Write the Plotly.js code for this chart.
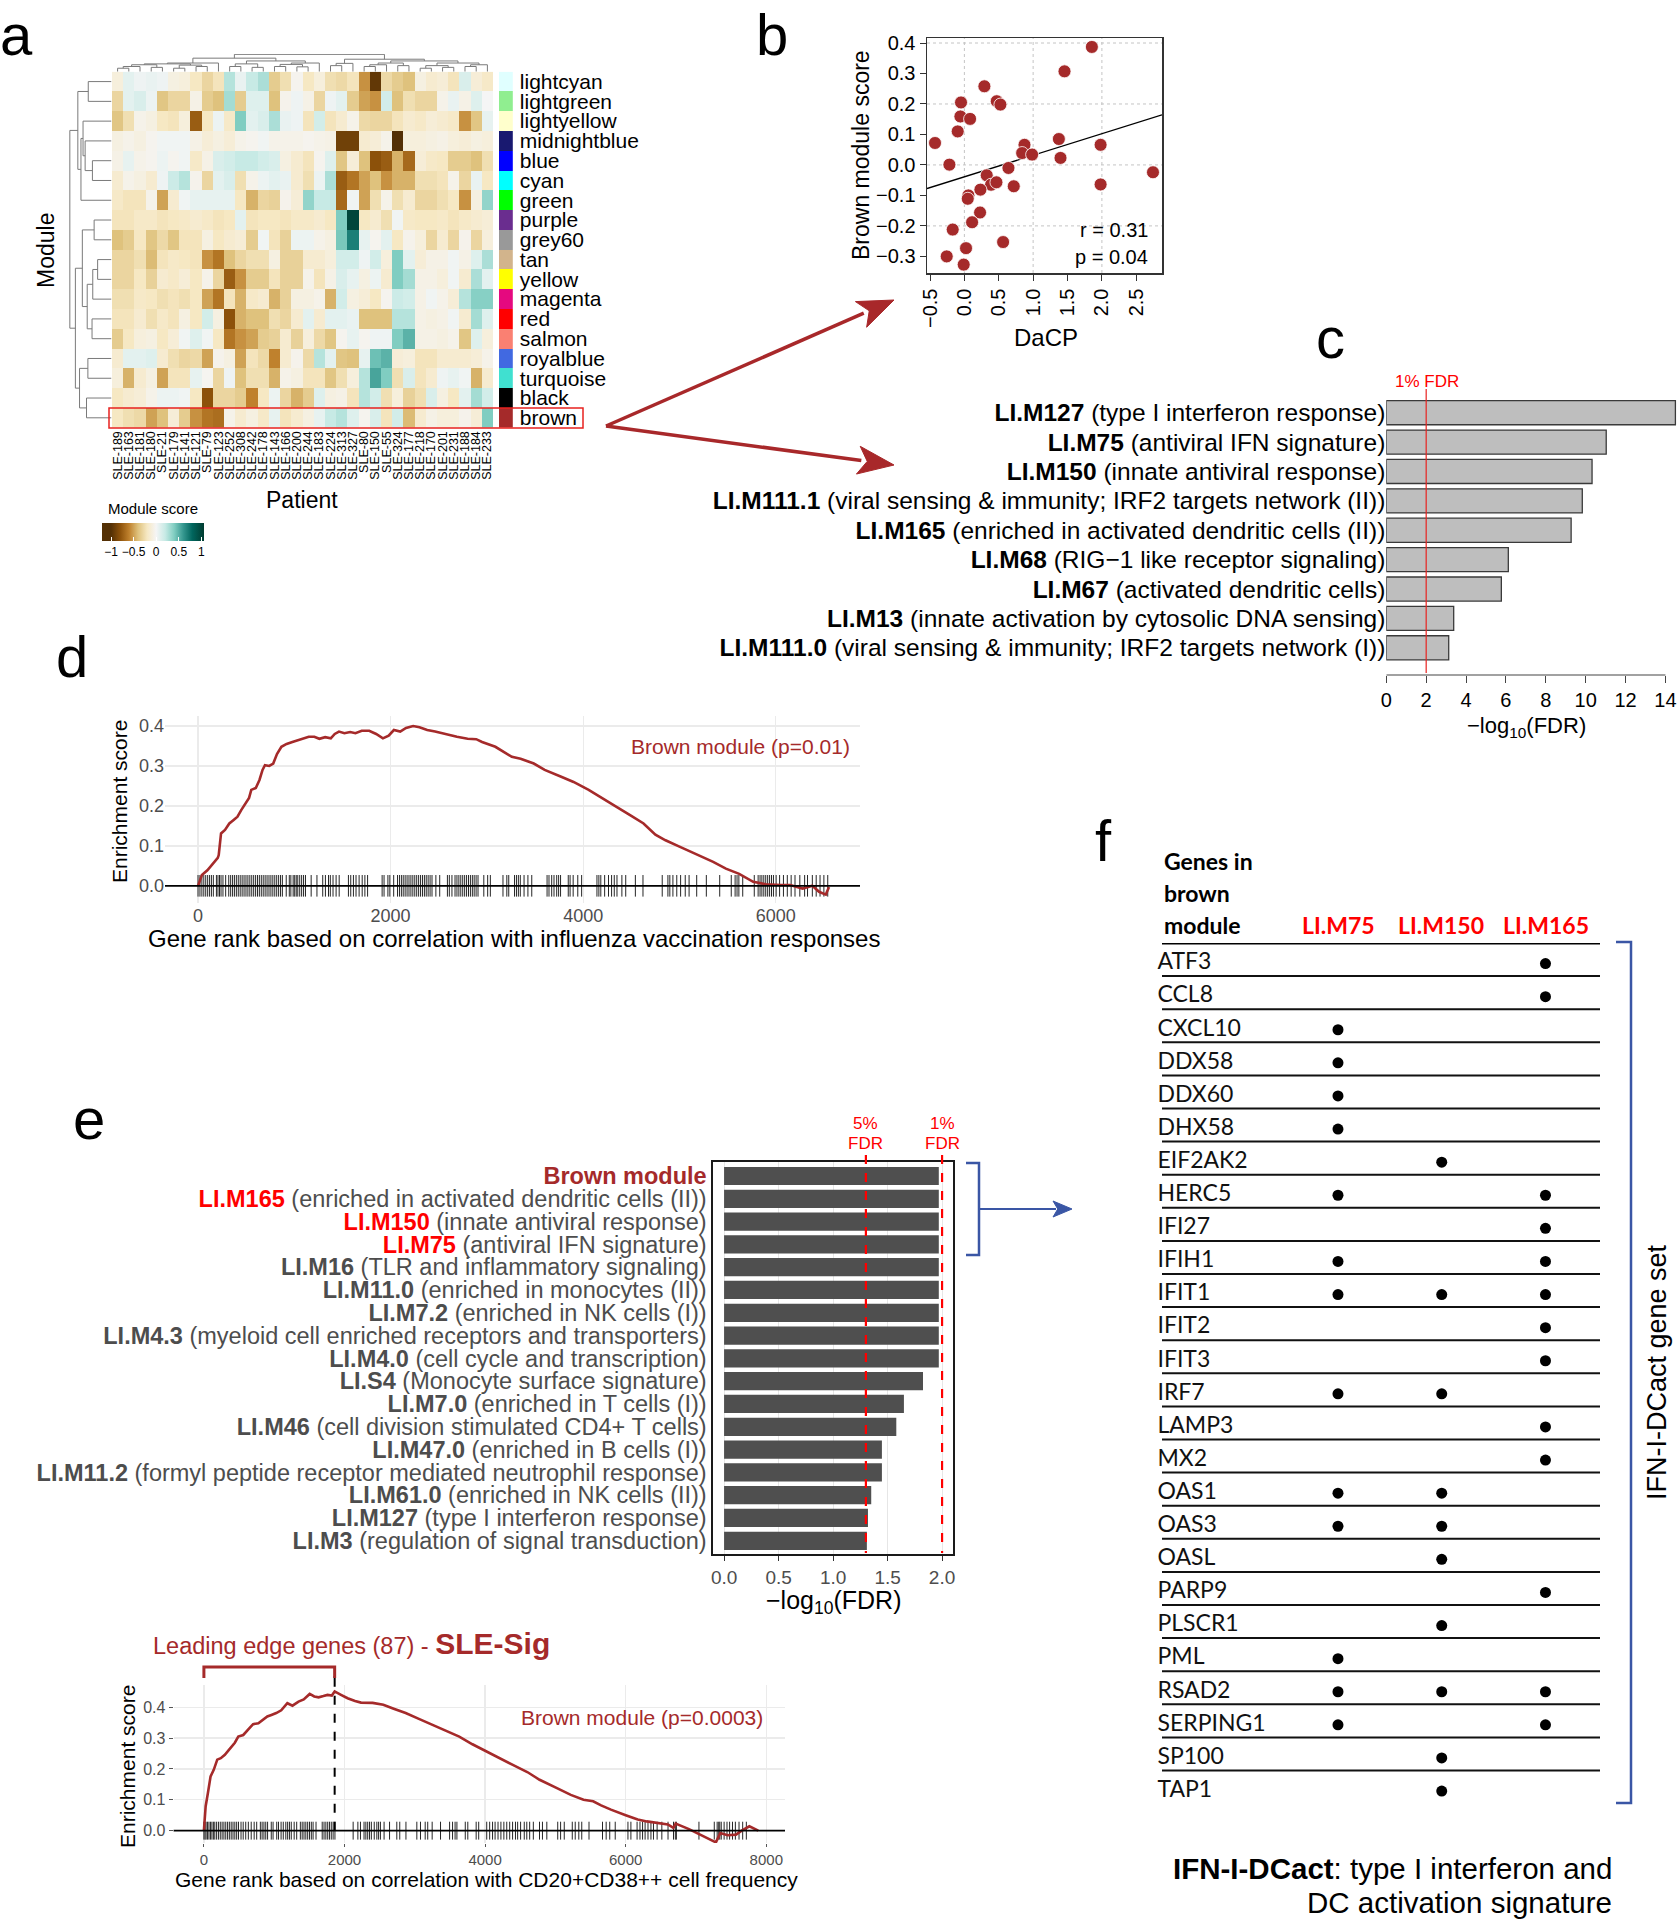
<!DOCTYPE html>
<html><head><meta charset="utf-8">
<script src="https://cdn.plot.ly/plotly-3.0.1.min.js"></script>
<style>html,body{margin:0;padding:0;background:#fff}</style>
</head><body><div id="chart" style="width:1679px;height:1920px"></div>
<script>
// ================= DATA =================
// Panel a
const patients=['SLE-189','SLE-163','SLE-181','SLE-180','SLE-21','SLE-179','SLE-141','SLE-121','SLE-79','SLE-123','SLE-252','SLE-308','SLE-242','SLE-178','SLE-143','SLE-166','SLE-200','SLE-244','SLE-183','SLE-224','SLE-313','SLE-327','SLE-80','SLE-150','SLE-55','SLE-324','SLE-177','SLE-218','SLE-170','SLE-201','SLE-231','SLE-188','SLE-184','SLE-233'];
const modules=['lightcyan','lightgreen','lightyellow','midnightblue','blue','cyan','green','purple','grey60','tan','yellow','magenta','red','salmon','royalblue','turquoise','black','brown'];
const moduleColors=['#e0ffff','#90ee90','#ffffcc','#191970','#0000ff','#00ffff','#00ff00','#6a2d8f','#999999','#d2b48c','#ffff00','#e5097f','#ff0000','#fa8072','#4169e1','#40e0d0','#000000','#a52a2a'];
const moduleScores=[
[-0.1,0.08,0.03,0.05,0.03,-0.08,-0.1,-0.2,-0.3,-0.22,0.25,0.05,0.2,0.28,-0.35,-0.25,-0.03,-0.2,-0.1,-0.25,-0.28,-0.22,-0.55,-0.95,-0.28,-0.35,-0.4,-0.08,-0.15,-0.12,-0.22,0.12,-0.12,-0.18],
[-0.3,0.08,0.12,0.04,-0.38,-0.3,-0.3,-0.06,-0.35,-0.4,0.3,-0.35,0.1,0.1,-0.4,-0.04,0.03,-0.06,-0.3,0.03,0.08,-0.35,-0.5,-0.55,0.15,-0.4,-0.25,-0.3,-0.3,-0.05,0.05,-0.06,0.1,0.0],
[-0.38,-0.25,-0.05,-0.08,-0.2,-0.22,-0.1,-0.75,-0.2,0.04,-0.18,0.4,0.08,0.12,0.28,0.05,0.03,-0.22,0.15,-0.22,-0.15,-0.05,-0.28,-0.3,-0.3,-0.22,-0.15,-0.18,-0.12,-0.15,-0.18,-0.55,-0.38,0.06],
[-0.08,-0.05,-0.08,-0.03,0.02,0.02,0.02,-0.06,-0.12,-0.08,-0.12,-0.05,-0.03,0.02,-0.05,-0.05,-0.05,-0.03,-0.05,-0.06,-0.9,-0.9,-0.15,-0.12,-0.05,-1.0,-0.1,-0.1,-0.08,-0.06,-0.1,-0.12,-0.08,-0.1],
[-0.06,0.06,-0.05,-0.03,0.04,-0.03,0.02,-0.18,-0.06,0.12,0.15,0.2,0.2,0.15,0.12,-0.08,-0.15,-0.22,-0.03,0.1,-0.38,-0.12,-0.4,-0.8,-0.75,-0.45,-0.7,-0.12,-0.18,-0.2,-0.35,-0.35,-0.4,-0.25],
[-0.15,-0.05,-0.08,-0.15,0.03,0.18,0.25,-0.04,-0.3,0.08,0.12,-0.25,-0.05,0.04,0.08,0.05,-0.15,-0.25,0.04,0.28,-0.75,-0.65,-0.5,-0.4,-0.55,-0.45,-0.45,-0.25,-0.25,-0.22,-0.05,-0.3,0.05,-0.2],
[-0.18,-0.22,-0.22,-0.05,-0.5,-0.15,0.02,0.06,0.06,0.06,0.06,-0.2,-0.45,-0.3,-0.32,-0.04,-0.12,0.35,0.2,0.2,-0.7,0.02,-0.5,-0.25,-0.05,-0.25,-0.15,-0.3,-0.3,-0.25,-0.2,-0.55,-0.08,0.35],
[-0.22,-0.22,-0.18,-0.18,-0.22,-0.2,-0.18,-0.15,-0.18,-0.22,-0.2,0.08,-0.22,-0.2,-0.2,-0.22,-0.18,-0.18,-0.15,-0.2,0.4,1.0,-0.2,-0.15,-0.25,0.02,-0.18,-0.2,-0.2,-0.18,-0.22,-0.18,-0.15,-0.12],
[-0.4,-0.35,-0.2,-0.38,-0.28,-0.38,-0.22,-0.22,-0.08,-0.2,-0.15,-0.12,-0.35,0.02,-0.22,-0.32,0.04,0.04,-0.05,-0.08,0.42,0.7,0.06,-0.03,0.08,-0.2,-0.04,-0.1,-0.3,-0.15,-0.3,-0.04,-0.3,-0.1],
[-0.3,-0.3,-0.25,-0.42,-0.22,-0.18,-0.2,-0.22,-0.55,-0.65,-0.4,-0.3,-0.25,-0.25,-0.08,-0.32,-0.32,-0.15,-0.15,-0.1,0.15,0.15,0.03,0.15,-0.1,0.4,0.08,-0.12,-0.06,-0.06,0.02,-0.06,0.1,0.28],
[-0.3,-0.3,-0.2,-0.32,-0.15,-0.18,-0.12,-0.2,-0.05,-0.3,-0.75,-0.55,-0.35,-0.35,-0.22,-0.32,-0.32,-0.05,-0.22,-0.06,0.12,0.06,-0.08,0.04,-0.15,0.4,0.3,-0.06,-0.06,-0.1,0.02,-0.15,0.28,0.08],
[-0.25,-0.25,-0.18,-0.2,-0.25,-0.22,-0.25,-0.2,-0.5,-0.65,-0.22,-0.45,-0.18,-0.15,-0.45,-0.32,-0.08,-0.08,-0.05,-0.45,0.15,-0.08,-0.12,-0.2,-0.03,0.18,0.15,-0.06,0.02,-0.05,-0.12,0.25,0.38,0.38],
[-0.22,-0.22,-0.15,-0.25,-0.18,-0.22,-0.08,-0.2,0.15,-0.08,-0.8,-0.45,-0.4,-0.4,-0.25,-0.3,-0.15,0.08,-0.15,0.08,0.08,0.05,-0.4,-0.4,-0.4,0.25,0.25,-0.06,-0.08,-0.06,0.02,-0.15,0.3,0.1],
[-0.35,-0.2,-0.1,-0.08,-0.2,-0.12,0.02,0.1,0.02,-0.2,-0.65,-0.55,-0.5,-0.35,-0.32,-0.15,-0.32,-0.1,-0.28,-0.38,-0.03,0.06,-0.03,0.03,0.03,0.4,0.5,-0.06,-0.06,-0.08,-0.05,-0.38,0.1,-0.1],
[-0.15,0.08,0.08,0.1,-0.15,-0.25,-0.3,-0.28,-0.5,-0.04,-0.08,-0.5,-0.22,-0.28,-0.6,-0.15,-0.04,-0.28,0.25,0.08,-0.38,-0.4,0.06,0.45,0.5,-0.12,-0.1,-0.22,-0.22,-0.15,-0.15,-0.15,-0.12,-0.05],
[-0.1,-0.45,-0.15,-0.08,-0.5,-0.22,-0.22,0.06,-0.02,-0.3,0.03,-0.4,-0.25,-0.25,-0.45,-0.05,-0.08,-0.22,-0.22,-0.38,-0.25,-0.1,0.25,0.55,0.4,-0.25,0.12,-0.22,-0.15,0.03,0.06,0.02,-0.45,-0.15],
[-0.2,-0.15,-0.12,-0.05,0.04,0.04,0.02,-0.2,-0.8,-0.3,-0.3,-0.35,-0.6,-0.2,0.04,-0.3,-0.45,-0.35,0.1,-0.08,-0.06,-0.22,0.25,0.15,-0.25,-0.1,-0.32,-0.25,0.12,-0.08,-0.2,0.08,0.3,0.15],
[-0.2,-0.25,-0.28,-0.5,-0.4,-0.12,-0.35,-0.55,-0.65,-0.68,-0.05,-0.15,-0.08,-0.18,0.06,-0.22,-0.15,-0.08,0.06,0.2,0.25,0.1,-0.03,0.12,-0.22,0.15,-0.42,-0.15,-0.06,-0.1,-0.1,-0.04,-0.12,0.4]
];
// hclust-style merges: [a, b, height]; negative = leaf (1-based), positive = earlier merge
const rowMerge=[[-1,-2,0.558],[-5,-6,0.458],[-4,2,0.633],[-3,3,0.683],[-7,4,0.733],[1,5,0.808],[-8,-9,0.417],[-10,-11,0.333],[-12,8,0.45],[-13,-14,0.467],[9,10,0.583],[7,11,0.70],[-15,-16,0.567],[-17,-18,0.60],[13,14,0.767],[12,15,0.867],[6,16,1.0]];
const colMerge=[[-1,-2,0.2],[-3,1,0.3],[-4,-5,0.25],[2,3,0.4],[-6,-7,0.2],[-8,-9,0.3],[5,6,0.38],[4,7,0.45],[-10,8,0.5],[-11,-12,0.3],[-13,-14,0.25],[10,11,0.45],[-15,-16,0.3],[-17,-18,0.28],[13,14,0.42],[-19,15,0.5],[12,16,0.62],[9,17,0.78],[-20,-21,0.35],[-22,19,0.48],[-23,-24,0.3],[-25,21,0.4],[-26,-27,0.35],[22,23,0.5],[-28,-29,0.2],[-30,-31,0.25],[25,26,0.35],[-32,-33,0.3],[28,-34,0.4],[27,29,0.5],[24,30,0.62],[20,31,0.72],[18,32,1.0]];

// Panel b
const dacp=[1.854,1.456,0.291,-0.049,0.471,0.524,-0.058,0.083,-0.097,-0.427,-0.218,1.374,0.874,0.840,0.985,1.398,1.981,2.743,0.641,0.325,0.388,0.466,0.718,1.981,0.233,0.058,0.049,0.228,0.112,-0.170,0.563,0.024,-0.257,-0.010];
const brownScore=[0.387,0.307,0.258,0.205,0.209,0.198,0.159,0.151,0.110,0.072,0.001,0.085,0.066,0.039,0.034,0.023,0.066,-0.024,-0.010,-0.034,-0.065,-0.057,-0.070,-0.064,-0.081,-0.100,-0.111,-0.156,-0.188,-0.212,-0.253,-0.273,-0.300,-0.327];
const corrText=['r = 0.31','p = 0.04'];

// Panel c
const cModules=['LI.M127','LI.M75','LI.M150','LI.M111.1','LI.M165','LI.M68','LI.M67','LI.M13','LI.M111.0'];
const cDesc=['(type I interferon response)','(antiviral IFN signature)','(innate antiviral response)','(viral sensing &amp; immunity; IRF2 targets network (II))','(enriched in activated dendritic cells (II))','(RIG\u22121 like receptor signaling)','(activated dendritic cells)','(innate activation by cytosolic DNA sensing)','(viral sensing &amp; immunity; IRF2 targets network (I))'];
const cLogFDR=[14.5,11.03,10.32,9.83,9.27,6.12,5.77,3.38,3.13];
const cTicks=[0,2,4,6,8,10,12,14];
const fdr1=2;

// Panel d
const dRank=[0,25,40,97,150,182,205,215,239,280,325,370,410,450,496,530,553,600,638,670,695,740,781,820,866,920,980,1037,1100,1150,1208,1260,1320,1379,1420,1464,1520,1580,1635,1700,1778,1850,1920,1980,2034,2100,2160,2234,2300,2380,2462,2560,2689,2800,2889,2950,3088,3259,3350,3487,3600,3772,3900,4057,4200,4342,4500,4627,4750,4855,5000,5197,5350,5482,5620,5766,5900,6051,6150,6279,6380,6450,6520,6553];
const dES=[0,0.02,0.027,0.039,0.055,0.064,0.07,0.077,0.131,0.14,0.156,0.165,0.173,0.19,0.206,0.22,0.24,0.245,0.265,0.29,0.302,0.30,0.306,0.33,0.348,0.355,0.36,0.365,0.37,0.373,0.373,0.368,0.372,0.369,0.38,0.386,0.382,0.385,0.382,0.388,0.388,0.38,0.369,0.376,0.390,0.386,0.395,0.400,0.397,0.39,0.386,0.38,0.373,0.368,0.367,0.36,0.348,0.323,0.318,0.306,0.29,0.273,0.26,0.24,0.22,0.198,0.175,0.156,0.128,0.114,0.098,0.077,0.06,0.043,0.03,0.010,0.004,0.002,0.002,-0.007,0.0,-0.015,-0.022,-0.003];
const dHits=[0,20,40,60,80,100,120,139,159,191,207,223,239,259,287,319,339,359,378,398,418,438,458,478,498,518,538,558,578,598,618,637,657,677,697,717,737,757,777,797,817,837,857,876,916,948,964,988,1004,1020,1036,1056,1076,1096,1116,1175,1235,1295,1323,1355,1374,1402,1434,1466,1562,1586,1614,1641,1673,1705,1733,1761,1912,1932,1972,1992,2032,2072,2092,2112,2131,2151,2171,2191,2211,2231,2251,2271,2291,2311,2331,2351,2370,2390,2410,2430,2470,2510,2590,2610,2637,2669,2689,2709,2729,2749,2769,2789,2809,2829,2849,2868,2888,2908,2968,3008,3036,3167,3207,3227,3287,3307,3327,3347,3386,3426,3466,3625,3645,3673,3697,3725,3745,3765,3845,3864,3896,3944,3984,4143,4163,4183,4223,4263,4295,4323,4351,4402,4442,4542,4621,4821,4880,4900,4932,4972,5012,5060,5100,5179,5279,5418,5538,5578,5598,5617,5657,5777,5817,5837,5856,5876,5896,5916,5936,5956,5976,6004,6040,6080,6120,6160,6200,6250,6300,6330,6380,6420,6460,6500,6540];

// Panel e
const eModules=['Brown module','LI.M165','LI.M150','LI.M75','LI.M16','LI.M11.0','LI.M7.2','LI.M4.3','LI.M4.0','LI.S4','LI.M7.0','LI.M46','LI.M47.0','LI.M11.2','LI.M61.0','LI.M127','LI.M3'];
const eDesc=['','(enriched in activated dendritic cells (II))','(innate antiviral response)','(antiviral IFN signature)','(TLR and inflammatory signaling)','(enriched in monocytes (II))','(enriched in NK cells (I))','(myeloid cell enriched receptors and transporters)','(cell cycle and transcription)','(Monocyte surface signature)','(enriched in T cells (I))','(cell division stimulated CD4+ T cells)','(enriched in B cells (I))','(formyl peptide receptor mediated neutrophil response)','(enriched in NK cells (II))','(type I interferon response)','(regulation of signal transduction)'];
const eNameColor=['#a52a2a','#ff0000','#ff0000','#ff0000','#4d4d4d','#4d4d4d','#4d4d4d','#4d4d4d','#4d4d4d','#4d4d4d','#4d4d4d','#4d4d4d','#4d4d4d','#4d4d4d','#4d4d4d','#4d4d4d','#4d4d4d'];
const eLogFDR=[1.97,1.97,1.97,1.97,1.97,1.97,1.97,1.97,1.97,1.825,1.65,1.58,1.448,1.448,1.35,1.32,1.31];
const eTicks=[0,0.5,1,1.5,2];
const fdrLines=[{v:1.301,label:'5%'},{v:2,label:'1%'}];

// Panel e (bottom GSEA)
const e2Rank=[0,10,25,57,95,140,190,240,298,350,394,440,489,560,648,700,775,840,902,960,1029,1100,1187,1260,1346,1420,1505,1570,1632,1700,1759,1820,1860,1950,2044,2150,2235,2400,2552,2700,2870,3050,3251,3450,3632,3820,4013,4200,4394,4600,4775,5000,5219,5400,5537,5650,5790,6000,6171,6300,6489,6600,6679,6711,6900,7060,7200,7283,7346,7450,7568,7650,7759,7886];
const e2ES=[0,0.04,0.079,0.122,0.176,0.197,0.230,0.235,0.246,0.26,0.273,0.285,0.305,0.31,0.332,0.345,0.348,0.36,0.370,0.375,0.381,0.39,0.413,0.405,0.418,0.425,0.443,0.435,0.432,0.436,0.440,0.438,0.451,0.44,0.429,0.42,0.415,0.414,0.408,0.395,0.381,0.363,0.343,0.323,0.305,0.28,0.257,0.235,0.213,0.19,0.165,0.14,0.116,0.10,0.095,0.082,0.068,0.05,0.036,0.03,0.025,0.02,0.009,0.023,0.005,-0.013,-0.03,-0.038,-0.008,-0.015,-0.013,0.0,0.014,0.0];
const e2Hits=[0,16,31,52,72,93,114,135,155,181,207,233,259,285,311,337,362,388,414,440,466,492,528,559,595,632,673,715,751,803,828,854,880,906,958,984,1036,1061,1098,1129,1165,1191,1217,1243,1284,1320,1372,1398,1424,1450,1476,1502,1528,1553,1595,1683,1709,1735,1761,1786,1812,1838,1864,2123,2190,2227,2278,2304,2330,2356,2382,2423,2460,2485,2511,2563,2641,2744,2786,2874,3029,3081,3148,3184,3247,3366,3495,3537,3573,3599,3718,3754,3873,3909,4023,4065,4106,4142,4184,4225,4267,4308,4350,4391,4432,4463,4505,4557,4593,4634,4686,4774,4816,4878,5033,5074,5126,5240,5282,5333,5375,5478,5670,5722,5773,5851,6032,6074,6162,6203,6240,6276,6317,6359,6395,6447,6514,6602,6680,6706,6721,7042,7260,7301,7323,7338,7359,7400,7441,7478,7519,7560,7612,7664,7716];
const leadingEdgeRank=1860;

// Panel f
const genes=['ATF3','CCL8','CXCL10','DDX58','DDX60','DHX58','EIF2AK2','HERC5','IFI27','IFIH1','IFIT1','IFIT2','IFIT3','IRF7','LAMP3','MX2','OAS1','OAS3','OASL','PARP9','PLSCR1','PML','RSAD2','SERPING1','SP100','TAP1'];
const fColumns=['LI.M75','LI.M150','LI.M165'];
const inM75 =[0,0,1,1,1,1,0,1,0,1,1,0,0,1,0,0,1,1,0,0,0,1,1,1,0,0];
const inM150=[0,0,0,0,0,0,1,0,0,0,1,0,0,1,0,0,1,1,1,0,1,0,1,0,1,1];
const inM165=[1,1,0,0,0,0,0,1,1,1,1,1,1,0,1,1,0,0,0,1,0,0,1,1,0,0];

// ================= HELPERS =================
const W=1679,H=1920;
const X=px=>px/W, Y=py=>1-py/H;
const xd=(a,b)=>[a/W,b/W], yd=(t,b)=>[1-b/H,1-t/H];
const FONT='Liberation Sans, Arial, Helvetica, sans-serif';
const BROWN='#a52a2a', GRAY='#4d4d4d', BLUE='#3a56a5';
const idx=n=>Array.from({length:n},(_,i)=>i);

function dendro(merge){
  const pos=[],hgt=[],p=[],h=[];
  const node=k=>k<0?{p:-k-1,h:0}:{p:pos[k-1],h:hgt[k-1]};
  merge.forEach(([a,b,ht],i)=>{const A=node(a),B=node(b);
    p.push(A.p,A.p,B.p,B.p,null); h.push(A.h,ht,ht,B.h,null);
    pos[i]=(A.p+B.p)/2; hgt[i]=ht;});
  return {p,h};
}
function rug(r,len){const x=[],y=[];r.forEach(v=>{x.push(v,v,null);y.push(-len,len,null);});return {x,y};}

// heatmap colour scale (BrBG)
const ZMIN=-1.2, ZMAX=1.06;
const brbg=[[-1.2,'#543005'],[-1,'#543005'],[-0.8,'#8c510a'],[-0.6,'#bf812d'],[-0.4,'#dfc27d'],[-0.2,'#f6e8c3'],[0,'#f5f5f5'],[0.2,'#c7eae5'],[0.4,'#80cdc1'],[0.6,'#35978f'],[0.8,'#01665e'],[1.06,'#003c30']];
const hmScale=brbg.map(([v,c],i)=>[i===brbg.length-1?1:(v-ZMIN)/(ZMAX-ZMIN),c]);
const stripScale=[];moduleColors.forEach((c,i)=>{stripScale.push([i/modules.length,c],[(i+1)/modules.length,c]);});

// regression for b
const n=dacp.length,mx=dacp.reduce((a,b)=>a+b)/n,my=brownScore.reduce((a,b)=>a+b)/n;
let sxy=0,sxx=0;dacp.forEach((x,i)=>{sxy+=(x-mx)*(brownScore[i]-my);sxx+=(x-mx)**2;});
const slope=sxy/sxx,icpt=my-slope*mx;
const bXR=[-0.5437,2.874],bYR=[-0.3545,0.4164];

// ================= TRACES =================
const traces=[];
traces.push({type:'heatmap',z:moduleScores,x:idx(patients.length),y:idx(modules.length),zmin:ZMIN,zmax:ZMAX,colorscale:hmScale,xaxis:'x',yaxis:'y',hoverinfo:'skip',
  colorbar:{orientation:'h',x:X(153),xanchor:'center',y:Y(506),yanchor:'top',len:102,lenmode:'pixels',thickness:18,thicknessmode:'pixels',outlinewidth:0,xpad:0,ypad:0,
    title:{text:'Module score',side:'top',font:{family:FONT,size:15,color:'#000'}},
    ticks:'inside',ticklen:4,tickcolor:'#fff',tickvals:[-1,-0.5,0,0.5,1],ticktext:['\u22121','\u22120.5','0','0.5','1'],tickfont:{family:FONT,size:12,color:'#000'}}});
const cd=dendro(colMerge);
traces.push({type:'scatter',mode:'lines',x:cd.p,y:cd.h,xaxis:'x2',yaxis:'y2',line:{color:'#7a7a7a',width:1},hoverinfo:'skip'});
const rd=dendro(rowMerge);
traces.push({type:'scatter',mode:'lines',x:rd.h,y:rd.p,xaxis:'x3',yaxis:'y3',line:{color:'#7a7a7a',width:1},hoverinfo:'skip'});
traces.push({type:'heatmap',z:modules.map((_,i)=>[i]),x:[0],y:idx(modules.length),zmin:-0.5,zmax:modules.length-0.5,colorscale:stripScale,showscale:false,xaxis:'x4',yaxis:'y4',hoverinfo:'skip'});
// b
traces.push({type:'scatter',mode:'lines',x:bXR,y:bXR.map(x=>icpt+slope*x),xaxis:'x5',yaxis:'y5',line:{color:'#000',width:1.3},hoverinfo:'skip'});
traces.push({type:'scatter',mode:'markers',x:dacp,y:brownScore,xaxis:'x5',yaxis:'y5',marker:{color:'#a52a2a',size:13,line:{color:'#fff',width:0.8}},hoverinfo:'skip'});
// c
traces.push({type:'bar',orientation:'h',x:cLogFDR,y:idx(cModules.length),width:0.82,xaxis:'x6',yaxis:'y6',marker:{color:'#bebebe',line:{color:'#3a3a3a',width:1.3}},hoverinfo:'skip'});
// d
const rD=rug(dHits,0.027);
traces.push({type:'scatter',mode:'lines',x:rD.x,y:rD.y,xaxis:'x7',yaxis:'y7',line:{color:'#000',width:1},opacity:0.85,hoverinfo:'skip'});
traces.push({type:'scatter',mode:'lines',x:dRank,y:dES,xaxis:'x7',yaxis:'y7',line:{color:BROWN,width:2.6},hoverinfo:'skip'});
// e
traces.push({type:'bar',orientation:'h',x:eLogFDR,y:idx(eModules.length),width:0.8,xaxis:'x8',yaxis:'y8',marker:{color:'#4f4f4f'},hoverinfo:'skip'});
// e bottom
const rE=rug(e2Hits,0.029);
traces.push({type:'scatter',mode:'lines',x:rE.x,y:rE.y,xaxis:'x9',yaxis:'y9',line:{color:'#000',width:1},opacity:0.85,hoverinfo:'skip'});
traces.push({type:'scatter',mode:'lines',x:e2Rank,y:e2ES,xaxis:'x9',yaxis:'y9',line:{color:BROWN,width:2.6},hoverinfo:'skip'});
// f
traces.push({type:'scatter',mode:'text',x:genes.map(()=>-0.74),y:idx(genes.length),text:genes,textposition:'middle right',textfont:{family:'Lato, sans-serif',size:23,color:'#111'},xaxis:'x10',yaxis:'y11',hoverinfo:'skip',cliponaxis:false});
const dotX=[],dotY=[];[inM75,inM150,inM165].forEach((arr,j)=>arr.forEach((v,i)=>{if(v){dotX.push(j+1);dotY.push(i);}}));
traces.push({type:'scatter',mode:'markers',x:dotX,y:dotY,xaxis:'x10',yaxis:'y11',marker:{color:'#000',size:11},hoverinfo:'skip'});

// ================= LAYOUT =================
const off={visible:false,fixedrange:true};
const noGrid={showgrid:false,zeroline:false};
const layout={width:W,height:H,margin:{l:0,r:0,t:0,b:0},paper_bgcolor:'#fff',plot_bgcolor:'rgba(0,0,0,0)',showlegend:false,font:{family:FONT,color:'#000'},
  xaxis:{domain:xd(112,493),range:[-0.5,patients.length-0.5],anchor:'y',tickmode:'array',tickvals:idx(patients.length),ticktext:patients,tickangle:-90,tickfont:{size:12.5},ticks:'',showline:false,...noGrid},
  yaxis:{domain:yd(71.7,427.7),range:[modules.length-0.5,-0.5],anchor:'x',showticklabels:false,ticks:'',...noGrid},
  xaxis2:{domain:xd(112,493),range:[-0.5,patients.length-0.5],anchor:'y2',...off},
  yaxis2:{domain:yd(54,71.7),range:[0,1.02],anchor:'x2',...off},
  xaxis3:{domain:xd(69,111.5),range:[1.02,0],anchor:'y3',...off},
  yaxis3:{domain:yd(71.7,427.7),range:[modules.length-0.5,-0.5],anchor:'x3',...off},
  xaxis4:{domain:xd(499,512.8),range:[-0.5,0.5],anchor:'y4',...off},
  yaxis4:{domain:yd(71.7,427.7),range:[modules.length-0.5,-0.5],anchor:'x4',side:'right',tickmode:'array',tickvals:idx(modules.length),ticktext:modules,tickfont:{size:21},ticks:'',ticklabelstandoff:6,showline:false,...noGrid},
  xaxis5:{domain:xd(927,1162),range:bXR,anchor:'y5',tickmode:'array',tickvals:[-0.5,0,0.5,1,1.5,2,2.5],tickformat:'.1f',tickangle:-90,ticks:'outside',ticklen:6,tickcolor:'#333',tickfont:{size:20},showline:true,mirror:true,linecolor:'#333',linewidth:1.5,...noGrid},
  yaxis5:{domain:yd(38,273),range:bYR,anchor:'x5',tickmode:'array',tickvals:[-0.3,-0.2,-0.1,0,0.1,0.2,0.3,0.4],tickformat:'.1f',ticks:'outside',ticklen:6,tickcolor:'#333',tickfont:{size:20},showline:true,mirror:true,linecolor:'#333',linewidth:1.5,...noGrid},
  xaxis6:{domain:xd(1386.3,1677.4),range:[0,14.6],anchor:'free',position:Y(675),tickmode:'array',tickvals:cTicks,ticks:'outside',ticklen:7,tickcolor:'#444',tickfont:{size:20},showline:false,...noGrid},
  yaxis6:{domain:yd(398,662.5),range:[cModules.length-0.5,-0.5],anchor:'x6',tickmode:'array',tickvals:idx(cModules.length),ticktext:cModules.map((m,i)=>'<b>'+m+'</b> '+cDesc[i]),ticks:'',tickfont:{size:24.5,color:'#000'},showline:false,...noGrid},
  xaxis7:{domain:xd(165,860),range:[-343,6875],anchor:'y7',tickmode:'array',tickvals:[0,2000,4000,6000],ticks:'',tickfont:{size:18,color:GRAY},showgrid:true,gridcolor:'#ebebeb',gridwidth:1.3,zeroline:false,showline:false},
  yaxis7:{domain:yd(716,903),range:[-0.043,0.425],anchor:'x7',tickmode:'array',tickvals:[0,0.1,0.2,0.3,0.4],tickformat:'.1f',ticks:'',tickfont:{size:18,color:GRAY},showgrid:true,gridcolor:'#ebebeb',gridwidth:1.3,zeroline:false,showline:false},
  xaxis8:{domain:xd(713.4,953.3),range:[-0.098,2.103],anchor:'y8',tickmode:'array',tickvals:eTicks,tickformat:'.1f',ticks:'outside',ticklen:5,tickcolor:'#333',tickfont:{size:19,color:GRAY},showgrid:true,gridcolor:'#e6e6e6',zeroline:false,showline:true,mirror:true,linecolor:'#1a1a1a',linewidth:2},
  yaxis8:{domain:yd(1161.7,1554),range:[eModules.length-0.42,-0.627],anchor:'x8',tickmode:'array',tickvals:idx(eModules.length),ticktext:eModules.map((m,i)=>'<span style="color:'+eNameColor[i]+'"><b>'+m+'</b></span>'+(eDesc[i]?' '+eDesc[i]:'')),ticks:'',tickfont:{size:23.5,color:GRAY},showline:true,mirror:true,linecolor:'#1a1a1a',linewidth:2,...noGrid},
  xaxis9:{domain:xd(173.6,785),range:[-431,8266],anchor:'y9',tickmode:'array',tickvals:[0,2000,4000,6000,8000],ticks:'outside',ticklen:3,tickcolor:'#555',tickfont:{size:15,color:GRAY},showgrid:true,gridcolor:'#ebebeb',gridwidth:1.3,zeroline:false,showline:false},
  yaxis9:{domain:yd(1685,1843),range:[-0.04,0.472],anchor:'x9',tickmode:'array',tickvals:[0,0.1,0.2,0.3,0.4],tickformat:'.1f',ticks:'outside',ticklen:4,tickcolor:'#555',tickfont:{size:16,color:GRAY},showgrid:true,gridcolor:'#ebebeb',gridwidth:1.3,zeroline:false,showline:false},
  xaxis10:{domain:xd(1150,1610),range:[-0.812,3.622],anchor:'y10',...off},
  yaxis10:{domain:yd(943,1803.6),range:[genes.length-0.5,-0.5],anchor:'x10',...off},
  yaxis11:{domain:yd(947,1807.6),range:[genes.length-0.5,-0.5],anchor:'x10',...off},
  shapes:[],annotations:[]
};
const S=layout.shapes, A=layout.annotations;
// a: red box around brown row
S.push({type:'rect',xref:'paper',yref:'paper',x0:X(109),x1:X(583),y0:Y(408),y1:Y(428),line:{color:'#e8221f',width:1.5}});
// b: dotted grid
[0,1,2].forEach(v=>S.push({type:'line',xref:'x5',yref:'y5 domain',x0:v,x1:v,y0:0,y1:1,line:{color:'#c4c4c4',width:1,dash:'dot'},layer:'below'}));
[-0.2,0,0.2,0.4].forEach(v=>S.push({type:'line',xref:'x5 domain',yref:'y5',x0:0,x1:1,y0:v,y1:v,line:{color:'#c4c4c4',width:1,dash:'dot'},layer:'below'}));
// c: axis line + FDR line
S.push({type:'line',xref:'x6',yref:'paper',x0:cTicks[0],x1:cTicks[cTicks.length-1],y0:Y(675),y1:Y(675),line:{color:'#444',width:1.2}});
S.push({type:'line',xref:'x6',yref:'paper',x0:fdr1,x1:fdr1,y0:Y(389),y1:Y(673),line:{color:'#e8221f',width:1.2}});
// d baseline
S.push({type:'line',xref:'x7 domain',yref:'y7',x0:0,x1:1,y0:0,y1:0,line:{color:'#000',width:1.8}});
// e FDR dashed lines
fdrLines.forEach(f=>S.push({type:'line',xref:'x8',yref:'paper',x0:f.v,x1:f.v,y0:Y(1155),y1:Y(1553),line:{color:'#ff0000',width:2.2,dash:'dash'}}));
// e blue bracket
S.push({type:'path',xref:'paper',yref:'paper',path:`M ${X(966)},${Y(1163)} L ${X(979)},${Y(1163)} L ${X(979)},${Y(1255)} L ${X(966)},${Y(1255)}`,line:{color:BLUE,width:2.5}});
// e bottom baseline, leading edge
S.push({type:'line',xref:'x9 domain',yref:'y9',x0:0,x1:1,y0:0,y1:0,line:{color:'#000',width:1.8}});
S.push({type:'line',xref:'x9',yref:'y9',x0:leadingEdgeRank,x1:leadingEdgeRank,y0:0,y1:0.472,line:{color:'#000',width:2,dash:'dash'}});
S.push({type:'line',xref:'x9',yref:'paper',x0:leadingEdgeRank,x1:leadingEdgeRank,y0:Y(1685),y1:Y(1667),line:{color:'#000',width:2,dash:'dash'}});
S.push({type:'path',xref:'x9',yref:'paper',path:`M 0,${Y(1678)} L 0,${Y(1667)} L ${leadingEdgeRank},${Y(1667)} L ${leadingEdgeRank},${Y(1678)}`,line:{color:BROWN,width:3}});
// f table lines
S.push({type:'line',xref:'paper',yref:'y10',x0:X(1162),x1:X(1600),y0:-0.5,y1:-0.5,line:{color:'#000',width:3}});
genes.slice(0,-1).forEach((g,i)=>S.push({type:'line',xref:'paper',yref:'y10',x0:X(1162),x1:X(1600),y0:i+0.5,y1:i+0.5,line:{color:'#111',width:2}}));
S.push({type:'path',xref:'paper',yref:'paper',path:`M ${X(1616)},${Y(942)} L ${X(1631)},${Y(942)} L ${X(1631)},${Y(1803)} L ${X(1616)},${Y(1803)}`,line:{color:BLUE,width:2.5}});
// arrows drawn as shapes (shaft + filled head)
function ARW(hx,hy,tx,ty,color,w,L,hw){
  const dx=hx-tx,dy=hy-ty,len=Math.hypot(dx,dy),ux=dx/len,uy=dy/len;
  const bx=hx-ux*L,by=hy-uy*L,nx=-uy,ny=ux;
  S.push({type:'line',xref:'paper',yref:'paper',x0:X(tx),y0:Y(ty),x1:X(bx+ux*3),y1:Y(by+uy*3),line:{color:color,width:w}});
  const nb=0.25*L;
  S.push({type:'path',xref:'paper',yref:'paper',path:`M ${X(hx)},${Y(hy)} L ${X(bx+nx*hw)},${Y(by+ny*hw)} L ${X(bx+ux*nb)},${Y(by+uy*nb)} L ${X(bx-nx*hw)},${Y(by-ny*hw)} Z`,fillcolor:color,line:{color:color,width:1}});
}
ARW(894,300,606,426,'#a8282a',3.5,36,14);
ARW(894,465,606,426,'#a8282a',3.5,36,14);
ARW(1072,1209,979,1209,BLUE,2.2,19,8);

// annotations
function T(text,x,y,o={}){A.push(Object.assign({text:text,x:X(x),y:Y(y),xref:'paper',yref:'paper',showarrow:false,xanchor:'center',yanchor:'middle',font:{family:FONT,size:20,color:'#000'}},o));}
const LBL={size:58,family:FONT,color:'#000'};
T('a',16,0,{font:LBL,yanchor:'top'});T('b',772,0,{font:LBL,yanchor:'top'});T('c',1330,337,{font:LBL});T('d',72,656,{font:LBL});T('e',89,1118,{font:LBL});T('f',1103,840,{font:LBL});
// a
T('Module',46,251,{textangle:-90,font:{family:FONT,size:23}});
T('Patient',302,500,{font:{family:FONT,size:23}});
// b
T('Brown module score',861,155,{textangle:-90,font:{family:FONT,size:23}});
T('DaCP',1046,337,{font:{family:FONT,size:24}});
T(corrText[0],1150,230,{xanchor:'right',font:{family:FONT,size:20}});
T(corrText[1],1150,257,{xanchor:'right',font:{family:FONT,size:20}});
// c
T('1% FDR',1427,381,{font:{family:FONT,size:17,color:'#ff0000'}});
T('\u2212log<sub>10</sub>(FDR)',1526,727,{font:{family:FONT,size:22}});
// d
T('Enrichment score',119,802,{textangle:-90,font:{family:FONT,size:21}});
T('Gene rank based on correlation with influenza vaccination responses',514,938,{font:{family:FONT,size:24}});
T('Brown module (p=0.01)',852,746,{xanchor:'right',font:{family:FONT,size:21,color:BROWN}});
// e
fdrLines.forEach(f=>{const px=724.1+f.v*109;T(f.label,px,1123,{font:{family:FONT,size:17,color:'#ff0000'}});T('FDR',px,1143,{font:{family:FONT,size:17,color:'#ff0000'}});});
T('\u2212log<sub>10</sub>(FDR)',833,1602,{font:{family:FONT,size:25}});
// e bottom
T('Leading edge genes (87) - <span style="font-size:30px"><b>SLE-Sig</b></span>',151,1643,{xanchor:'left',font:{family:FONT,size:23.5,color:BROWN}});
T('Enrichment score',127,1767,{textangle:-90,font:{family:FONT,size:21}});
T('Gene rank based on correlation with CD20+CD38++ cell frequency',486,1879,{font:{family:FONT,size:21}});
T('Brown module (p=0.0003)',765,1717,{xanchor:'right',font:{family:FONT,size:21,color:BROWN}});
// f
const LF='Lato, sans-serif';
T('<b>Genes in</b>',1162,861,{xanchor:'left',font:{family:LF,size:23}});
T('<b>brown</b>',1162,893,{xanchor:'left',font:{family:LF,size:23}});
T('<b>module</b>',1162,925,{xanchor:'left',font:{family:LF,size:23}});
[1338,1441,1546].forEach((px,j)=>T('<b>'+fColumns[j]+'</b>',px,925,{font:{family:LF,size:23,color:'#ff0000'}}));
T('IFN-I-DCact gene set',1657,1372,{textangle:-90,font:{family:FONT,size:27}});
T('<b>IFN-I-DCact</b>: type I interferon and',1614,1868,{xanchor:'right',font:{family:FONT,size:29.5}});
T('DC activation signature',1614,1902,{xanchor:'right',font:{family:FONT,size:29.5}});

Plotly.newPlot('chart',traces,layout,{staticPlot:true});
</script></body></html>
